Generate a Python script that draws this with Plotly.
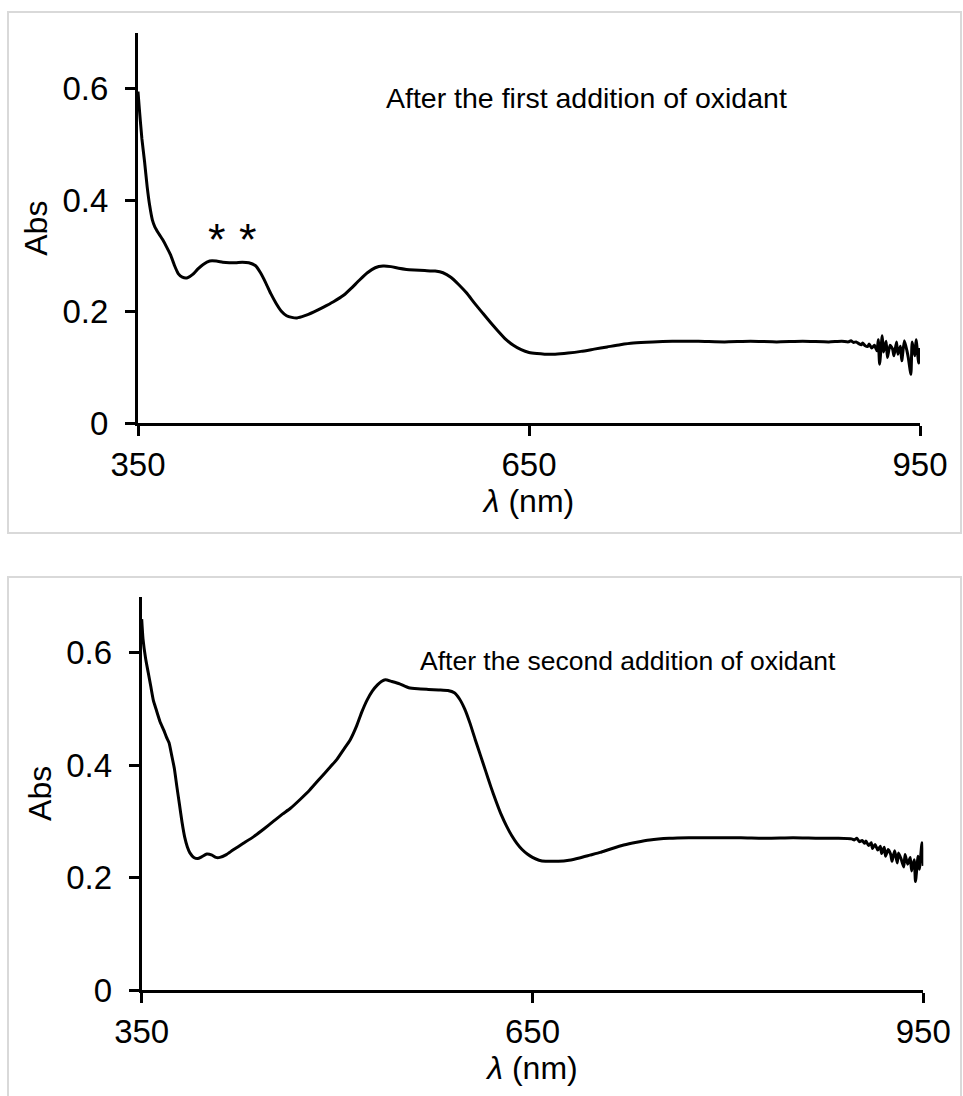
import plotly.graph_objects as go

# ---- Spectrum after the first addition of oxidant ----
wl_first = [350, 351, 353, 355, 357, 359, 361, 363, 366, 369, 372, 375, 378, 381, 384, 388,
            392, 396, 400, 405, 410, 415, 420, 425, 430, 435, 440, 444, 448, 452, 456, 460,
            464, 468, 472, 478, 485, 492, 500, 508, 514, 520, 526, 532, 538, 544, 550, 556,
            562, 570, 578, 584, 590, 596, 602, 608, 614, 620, 626, 632, 638, 644, 650, 656,
            662, 670, 680, 690, 700, 710, 720, 730, 745, 760, 780, 800, 820, 840, 860, 880,
            890, 895, 897, 899, 901, 903, 905, 906, 908, 910, 911, 913, 915, 917, 918, 919,
            921, 922, 924, 925, 927, 929, 930, 932, 933, 935, 936, 938, 940, 941, 943, 944,
            946, 947, 949, 950]
abs_first = [0.595, 0.565, 0.510, 0.470, 0.425, 0.390, 0.365, 0.352, 0.340, 0.329, 0.316, 0.302,
             0.283, 0.268, 0.262, 0.261, 0.267, 0.277, 0.285, 0.291, 0.291, 0.289, 0.288, 0.288,
             0.289, 0.288, 0.283, 0.270, 0.252, 0.232, 0.215, 0.201, 0.193, 0.190, 0.189, 0.193,
             0.200, 0.208, 0.218, 0.230, 0.243, 0.257, 0.270, 0.279, 0.282, 0.281, 0.278, 0.276,
             0.275, 0.274, 0.273, 0.270, 0.262, 0.249, 0.234, 0.216, 0.199, 0.182, 0.166, 0.151,
             0.140, 0.132, 0.127, 0.125, 0.124, 0.124, 0.126, 0.129, 0.133, 0.137, 0.141, 0.144,
             0.146, 0.147, 0.147, 0.146, 0.147, 0.146, 0.147, 0.146, 0.147, 0.146, 0.148, 0.145,
             0.146, 0.143, 0.141, 0.144, 0.139, 0.138, 0.142, 0.135, 0.140, 0.130, 0.150, 0.106,
             0.157, 0.128, 0.147, 0.118, 0.140, 0.133, 0.121, 0.146, 0.124, 0.138, 0.112, 0.148,
             0.130, 0.118, 0.088, 0.146, 0.121, 0.150, 0.108, 0.135]

# ---- Spectrum after the second addition of oxidant ----
wl_second = [350, 351, 353, 355, 357, 359, 361, 364, 367, 369, 371, 373, 375, 377, 379, 381,
             383, 385, 387, 390, 393, 396, 400, 404, 407, 410, 415, 420, 428, 436, 444, 451,
             458, 464, 472, 479, 487, 494, 500, 505, 510, 515, 519, 523, 527, 531, 534, 537,
             542, 548, 555, 562, 570, 578, 585, 590, 594, 598, 602, 606, 610, 614, 618, 622,
             626, 630, 634, 638, 642, 646, 650, 655, 660, 665, 670, 678, 686, 694, 702, 710,
             720, 730, 740, 755, 770, 790, 810, 830, 850, 870, 885, 895, 897, 899, 901, 903,
             905, 906, 908, 910, 911, 913, 915, 917, 918, 920, 921, 923, 925, 926, 928, 930,
             931, 933, 935, 936, 938, 940, 941, 943, 944, 946, 947, 949, 950]
abs_second = [0.660, 0.625, 0.590, 0.565, 0.540, 0.515, 0.500, 0.478, 0.462, 0.450, 0.440, 0.418,
              0.395, 0.362, 0.330, 0.298, 0.272, 0.255, 0.244, 0.236, 0.234, 0.237, 0.242, 0.240,
              0.236, 0.236, 0.241, 0.249, 0.261, 0.273, 0.287, 0.300, 0.313, 0.323, 0.340, 0.356,
              0.377, 0.395, 0.411, 0.428, 0.445, 0.470, 0.495, 0.516, 0.532, 0.543, 0.549, 0.552,
              0.549, 0.545, 0.538, 0.536, 0.535, 0.534, 0.533, 0.529, 0.518, 0.500, 0.475, 0.446,
              0.418, 0.390, 0.362, 0.336, 0.312, 0.292, 0.275, 0.261, 0.250, 0.242, 0.236, 0.231,
              0.229, 0.229, 0.229, 0.231, 0.235, 0.240, 0.245, 0.251, 0.258, 0.263, 0.267, 0.270,
              0.271, 0.271, 0.271, 0.270, 0.271, 0.270, 0.270, 0.269, 0.267, 0.270, 0.264, 0.266,
              0.261, 0.265, 0.257, 0.262, 0.252, 0.259, 0.249, 0.256, 0.243, 0.254, 0.238, 0.250,
              0.241, 0.229, 0.248, 0.226, 0.244, 0.233, 0.219, 0.241, 0.224, 0.236, 0.212, 0.232,
              0.193, 0.238, 0.215, 0.262, 0.221]

x_ticks = [350, 650, 950]
y_ticks = [0, 0.2, 0.4, 0.6]
y_tick_text = ["0", "0.2", "0.4", "0.6"]

W, H = 963, 1096
FONT = "Liberation Sans, Arial, sans-serif"


def px_x(p):
    return p / W


def px_y(p):
    return 1 - p / H


fig = go.Figure()
fig.add_trace(go.Scatter(x=wl_first, y=abs_first, mode="lines",
                         line=dict(color="black", width=3, shape="spline", smoothing=0.5),
                         xaxis="x", yaxis="y", showlegend=False))
fig.add_trace(go.Scatter(x=wl_second, y=abs_second, mode="lines",
                         line=dict(color="black", width=3, shape="spline", smoothing=0.5),
                         xaxis="x2", yaxis="y2", showlegend=False))

axis_common = dict(showline=True, linecolor="black", linewidth=3, ticks="outside",
                   ticklen=10, tickwidth=3, tickcolor="black", showgrid=False,
                   zeroline=False, automargin=False,
                   tickfont=dict(family=FONT, size=33, color="black"))

xt = dict(tickmode="array", tickvals=x_ticks, range=[350, 950], ticklabelstandoff=0)
yt = dict(tickmode="array", tickvals=y_ticks, ticktext=y_tick_text, range=[0, 0.7],
          ticklabelstandoff=10)

x_title = dict(text="<i>λ</i> (nm)", font=dict(family=FONT, size=32), standoff=4)
y_title = dict(text="Abs", font=dict(family=FONT, size=32), standoff=6)

fig.update_layout(
    width=W, height=H,
    margin=dict(l=0, r=0, t=0, b=0),
    paper_bgcolor="white", plot_bgcolor="white",
    font=dict(family=FONT, color="black"),
    xaxis=dict(domain=[px_x(138), px_x(920)], anchor="y", **xt, **axis_common, title=x_title),
    yaxis=dict(domain=[px_y(423.3), px_y(33)], anchor="x", **yt, **axis_common, title=y_title),
    xaxis2=dict(domain=[px_x(141.7), px_x(923.3)], anchor="y2", **xt, **axis_common,
                title=x_title),
    yaxis2=dict(domain=[px_y(990), px_y(596.7)], anchor="x2", **yt, **axis_common,
                title=y_title),
)

# Light frames around each panel
frame = dict(type="rect", xref="paper", yref="paper",
             line=dict(color="#d9d9d9", width=2), fillcolor="rgba(0,0,0,0)", layer="below")
fig.add_shape(x0=px_x(8), x1=px_x(961), y0=px_y(533), y1=px_y(12), **frame)
fig.add_shape(x0=px_x(8), x1=px_x(961), y0=px_y(1110), y1=px_y(577), **frame)

# Panel captions and markers
fig.add_annotation(text="After the first addition of oxidant", xref="paper", yref="paper",
                   x=px_x(384), y=px_y(98), xanchor="left", yanchor="middle", showarrow=False,
                   font=dict(family=FONT, size=28.5, color="black"))
fig.add_annotation(text="After the second addition of oxidant", xref="paper", yref="paper",
                   x=px_x(418), y=px_y(661), xanchor="left", yanchor="middle", showarrow=False,
                   font=dict(family=FONT, size=26.5, color="black"))
for xs in [410.6, 434.4]:
    fig.add_annotation(text="*", xref="x", yref="y", x=xs, y=0.330, xanchor="center",
                       yanchor="middle", showarrow=False,
                       font=dict(family=FONT, size=45, color="black"))

fig.write_html("out.html")
